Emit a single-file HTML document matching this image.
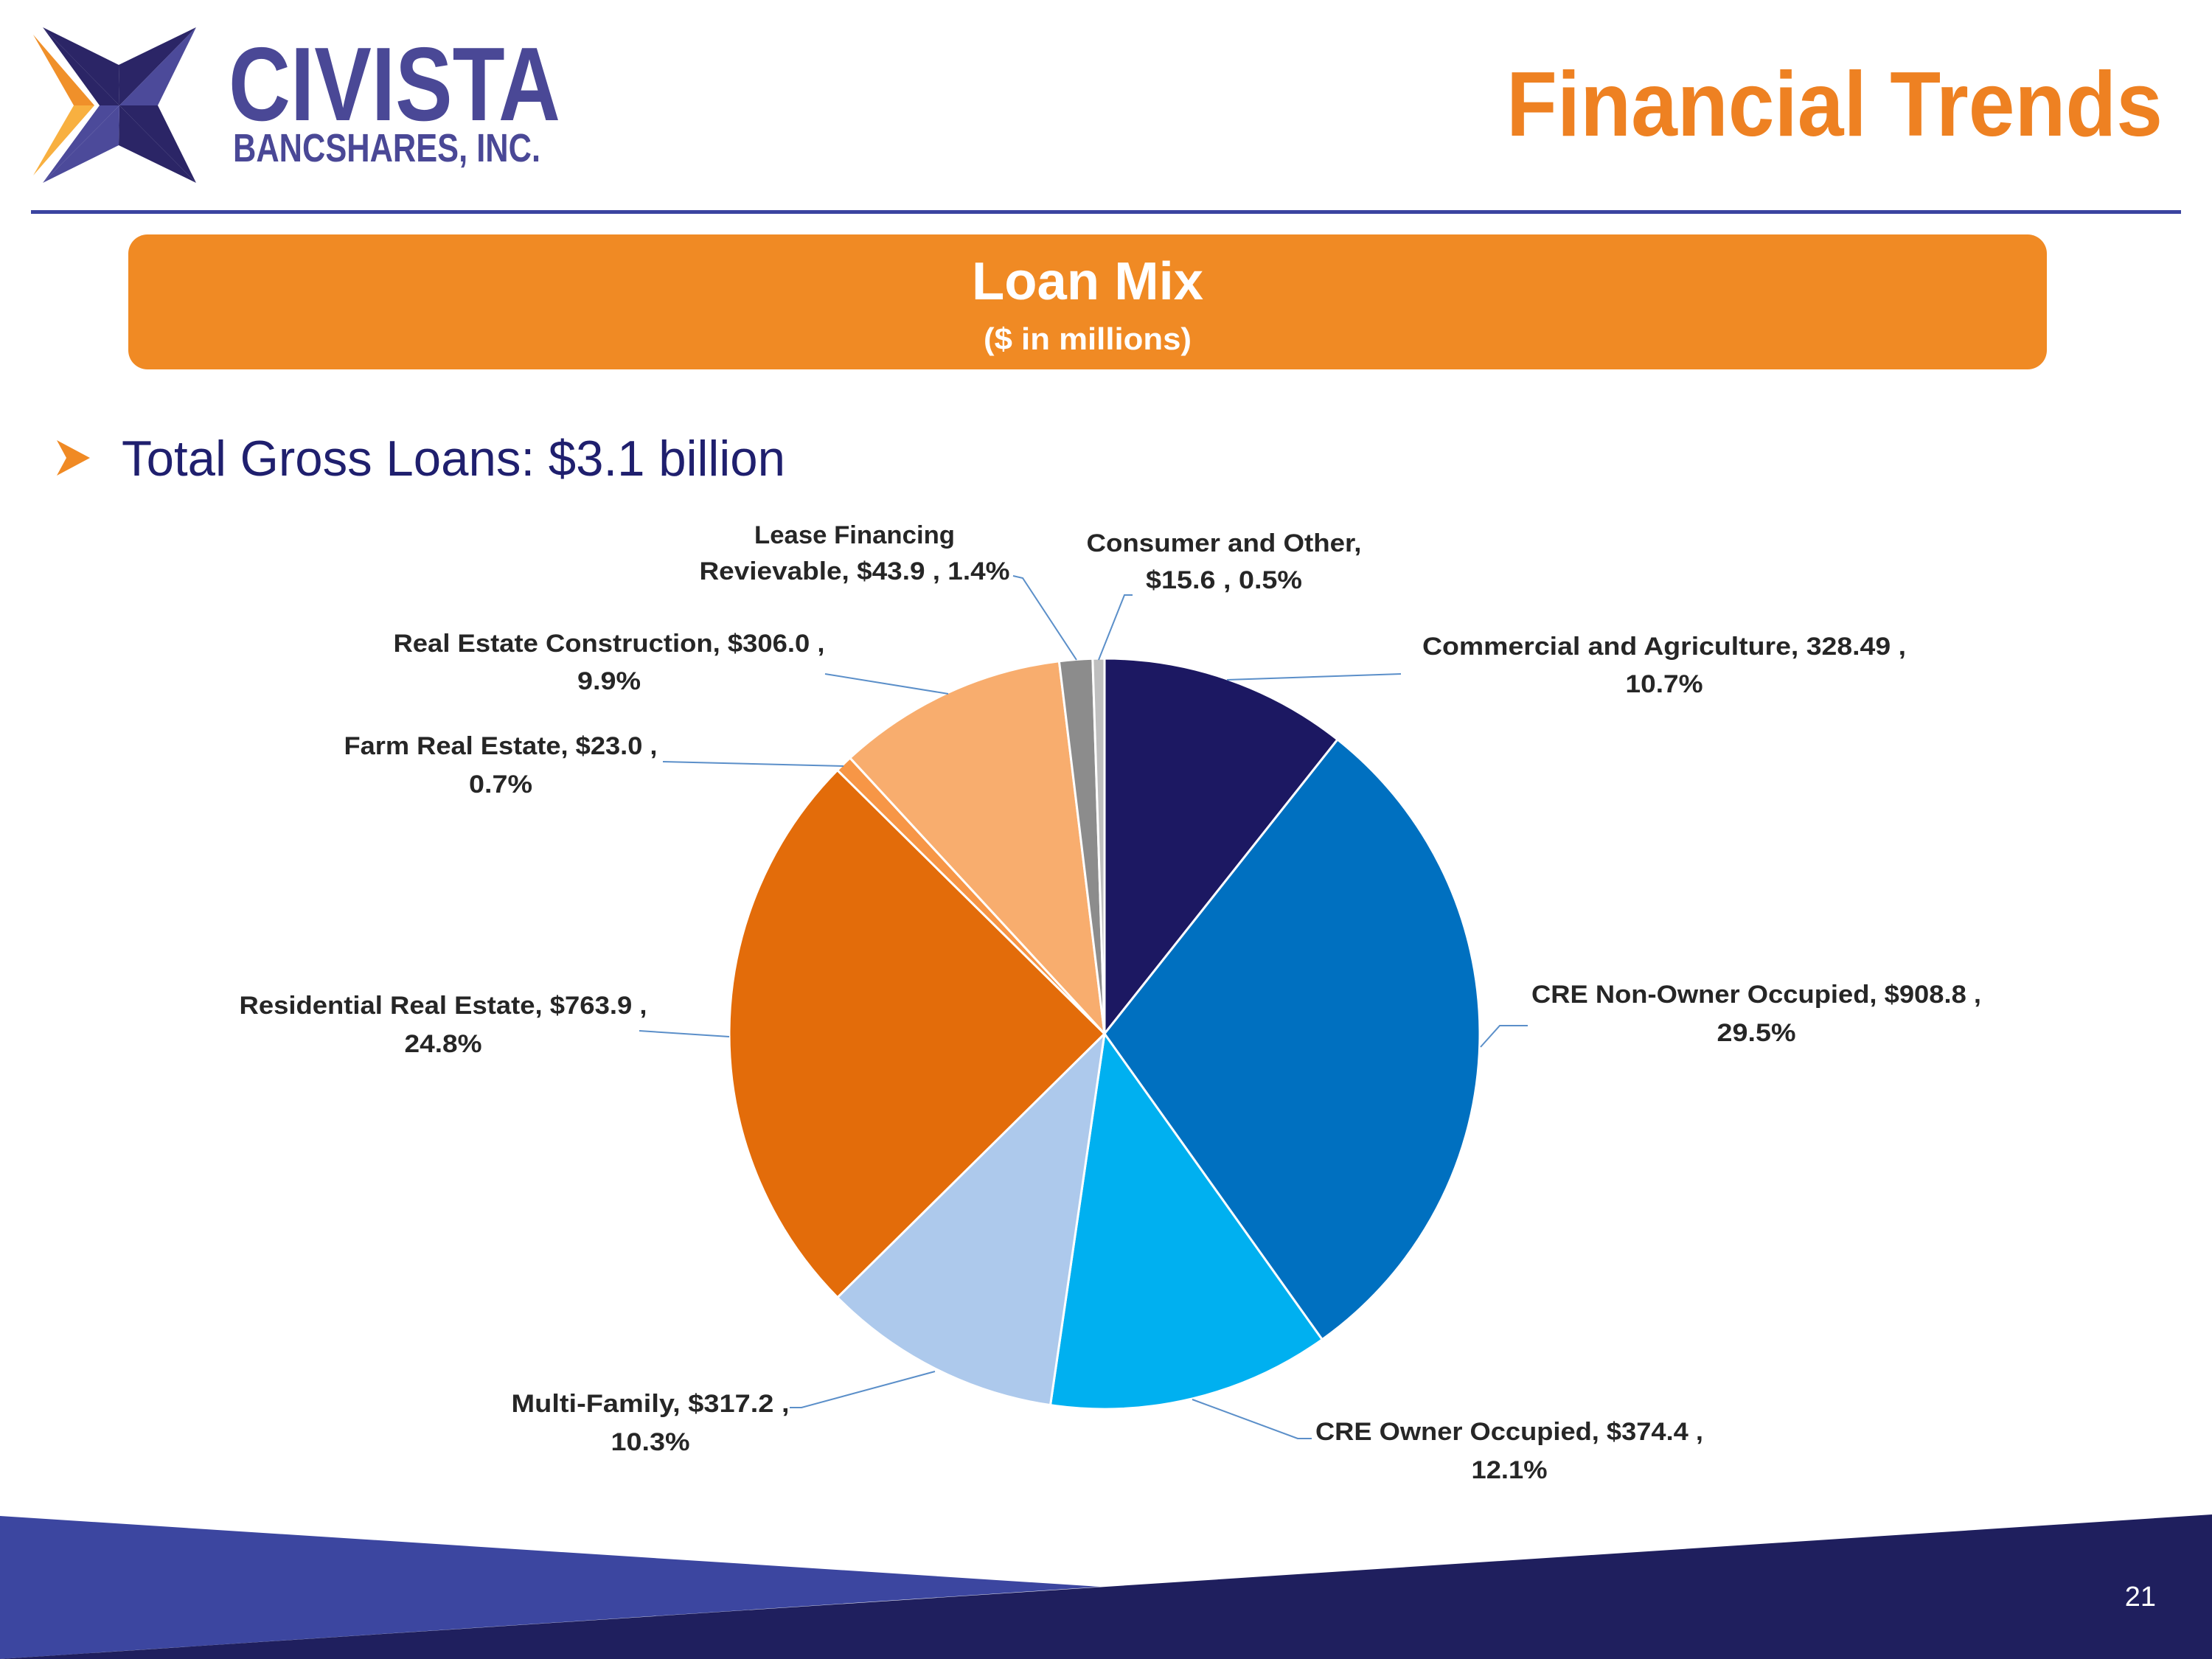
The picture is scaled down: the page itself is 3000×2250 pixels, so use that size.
<!DOCTYPE html>
<html><head><meta charset="utf-8"><style>
html,body{margin:0;padding:0;background:#fff;}
svg{display:block;}
text{font-family:"Liberation Sans",sans-serif;}
</style></head><body>
<svg id="page" width="3000" height="2250" viewBox="0 0 3000 2250" xmlns="http://www.w3.org/2000/svg">
<g>
  <polygon points="45,47 128,143 100,143" fill="#F0902A"/>
  <polygon points="100,143 128,143 45,238" fill="#F8B040"/>
  <polygon points="58,37 162,143 161,88" fill="#2B2566"/>
  <polygon points="58,37 162,143 135,143" fill="#2B2566"/>
  <polygon points="266,37 161,88 162,143" fill="#2B2566"/>
  <polygon points="266,37 162,143 214,143" fill="#4C4A9A"/>
  <polygon points="266,248 214,143 162,143" fill="#2B2566"/>
  <polygon points="266,248 162,143 161,197" fill="#2B2566"/>
  <polygon points="58,248 161,197 162,143" fill="#4C4A9A"/>
  <polygon points="58,248 162,143 135,143" fill="#4C4A9A"/>
  <text x="310" y="163" font-size="142" font-weight="bold" fill="#4A4896" textLength="450" lengthAdjust="spacingAndGlyphs">CIVISTA</text>
  <text x="316" y="219" font-size="54" font-weight="bold" fill="#4A4896" textLength="417" lengthAdjust="spacingAndGlyphs">BANCSHARES, INC.</text>
</g>
<text x="2933" y="184" text-anchor="end" font-size="124" font-weight="bold" fill="#EE8122" textLength="890" lengthAdjust="spacingAndGlyphs">Financial Trends</text>
<rect x="42" y="285" width="2916" height="5" fill="#3B44A0"/>
<rect x="174" y="318" width="2602" height="183" rx="26" fill="#F08A24"/>
<text x="1475" y="406" text-anchor="middle" font-size="72" font-weight="bold" fill="#fff" textLength="314" lengthAdjust="spacingAndGlyphs">Loan Mix</text>
<text x="1475" y="474" text-anchor="middle" font-size="42" font-weight="bold" fill="#fff" textLength="282" lengthAdjust="spacingAndGlyphs">($ in millions)</text>
<polygon points="77,597 122,621 77,645 90,621" fill="#F08A24"/>
<text x="165" y="645" font-size="68" fill="#1F1F6E" textLength="900" lengthAdjust="spacingAndGlyphs">Total Gross Loans: $3.1 billion</text>
<g id="pie"></g>
<g id="labels"></g>
<polygon points="0,2056 1492,2152 0,2250" fill="#3C46A0"/>
<polygon points="0,2250 3000,2054 3000,2250" fill="#1F1F5E"/>
<text x="2924" y="2178" text-anchor="end" font-size="38" fill="#fff">21</text>
</svg>
<script>
const categories=["Commercial and Agriculture","CRE Non-Owner Occupied","CRE Owner Occupied","Multi-Family","Residential Real Estate","Farm Real Estate","Real Estate Construction","Lease Financing Revievable","Consumer and Other"];
const values=[328.49,908.8,374.4,317.2,763.9,23.0,306.0,43.9,15.6];
const valueLabels=["328.49","$908.8","$374.4","$317.2","$763.9","$23.0","$306.0","$43.9","$15.6"];
const pctLabels=["10.7%","29.5%","12.1%","10.3%","24.8%","0.7%","9.9%","1.4%","0.5%"];
const colors=["#1C1862","#0070C0","#00B0F0","#ADC9EC","#E36C0A","#F79646","#F8AD6E","#8C8C8C","#BFBFBF"];
// label layout: [centerX, baseline1, baseline2, width1, width2, line1, line2]
const layout=[
 [2257,888,939,656,105,"Commercial and Agriculture,  328.49 ,","10.7%",[[1900,914],[1664,922]]],
 [2382,1360,1412,610,107,"CRE Non-Owner Occupied, $908.8 ,","29.5%",[[2072,1391],[2034,1391],[2008,1420]]],
 [2047,1953,2005,526,103,"CRE Owner Occupied, $374.4 ,","12.1%",[[1779,1951],[1760,1951],[1617,1898]]],
 [882,1915,1967,377,107,"Multi-Family, $317.2 ,","10.3%",[[1071,1909],[1087,1909],[1268,1860]]],
 [601,1375,1427,553,105,"Residential Real Estate, $763.9 ,","24.8%",[[867,1398],[989,1406]]],
 [679,1023,1075,425,86,"Farm Real Estate, $23.0 ,","0.7%",[[899,1033],[1144,1039]]],
 [826,884,935,585,86,"Real Estate Construction, $306.0 ,","9.9%",[[1119,914],[1286,941]]],
 [1159,737,786,272,421,"Lease Financing","Revievable, $43.9 , 1.4%",[[1374,781],[1387,784],[1460,895]]],
 [1660,748,798,373,212,"Consumer and Other,","$15.6 , 0.5%",[[1536,807],[1525,807],[1490,895]]]
];
const cx=1498, cy=1402, R=509;
const NS="http://www.w3.org/2000/svg";
const total=values.reduce((a,b)=>a+b,0);
function angleOf(v){return v/total*Math.PI*2;}
function pt(a,r){return [cx+r*Math.sin(a), cy-r*Math.cos(a)];}
const pie=document.getElementById('pie');
let a0=0;
values.forEach((v,i)=>{
  const a1=a0+angleOf(v);
  const p0=pt(a0,R), p1=pt(a1,R);
  const large=(a1-a0)>Math.PI?1:0;
  const path=document.createElementNS(NS,'path');
  path.setAttribute('d',`M${cx},${cy} L${p0[0]},${p0[1]} A${R},${R} 0 ${large} 1 ${p1[0]},${p1[1]} Z`);
  path.setAttribute('fill',colors[i]);
  path.setAttribute('stroke','#fff');
  path.setAttribute('stroke-width','3');
  
  
  pie.appendChild(path);
  a0=a1;
});
const lg=document.getElementById('labels');
layout.forEach((L,i)=>{
  const pl=document.createElementNS(NS,'polyline');
  pl.setAttribute('points',L[7].map(p=>p.join(',')).join(' '));
  pl.setAttribute('fill','none');
  pl.setAttribute('stroke','#5B8FC9');
  pl.setAttribute('stroke-width','2');
  
  
  lg.appendChild(pl);
  [[L[5],L[1],L[3]],[L[6],L[2],L[4]]].forEach(([txt,y,w])=>{
    const t=document.createElementNS(NS,'text');
    t.setAttribute('x',L[0]);t.setAttribute('y',y);
    t.setAttribute('text-anchor','middle');
    t.setAttribute('font-size','34');t.setAttribute('font-weight','bold');
    t.setAttribute('fill','#262626');
    t.setAttribute('textLength',w);t.setAttribute('lengthAdjust','spacingAndGlyphs');
    
    
    t.textContent=txt;
    lg.appendChild(t);
  });
});
</script>
</body></html>
